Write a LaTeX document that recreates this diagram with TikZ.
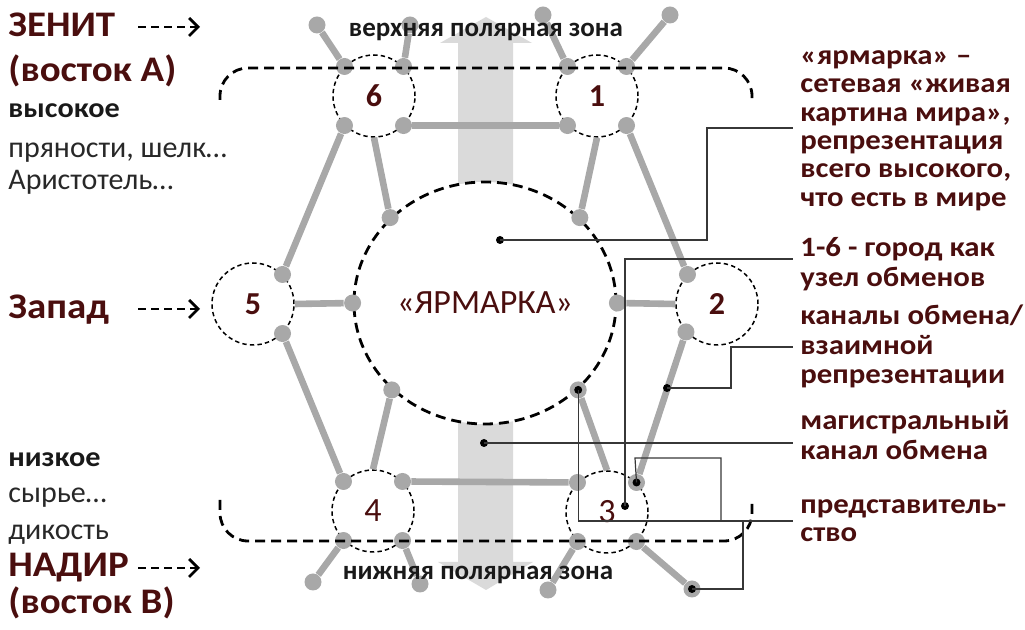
\documentclass[tikz,border=0pt]{standalone}
\usepackage{fontspec}
\setmainfont{Carlito}
\newfontfamily\widefont[FakeStretch=1.08]{Carlito}
\newfontfamily\rightfont[FakeStretch=1.1]{Carlito}
\usetikzlibrary{arrows.meta,shapes.geometric}
\definecolor{maroon}{RGB}{74,14,14}
\definecolor{netgray}{RGB}{168,168,168}
\definecolor{shaftgray}{RGB}{218,218,218}
\definecolor{leadgray}{RGB}{55,55,55}
\definecolor{softblack}{RGB}{25,25,25}
\definecolor{textgray}{RGB}{40,40,40}
\begin{document}
\begin{tikzpicture}[x=0.5pt,y=-0.5pt,
  city/.style={circle,draw=black,line width=0.75pt,dash pattern=on 2.2pt off 1.6pt,
    minimum size=41pt,inner sep=0pt,font=\fontsize{16}{16}\selectfont\bfseries,text=maroon},
  cityr/.style={city,font=\fontsize{17}{17}\selectfont},
  fairnode/.style={ellipse,draw=black,fill=white,line width=1.4pt,dash pattern=on 5pt off 3pt,
    minimum width=131pt,minimum height=121pt,inner sep=0pt,
    font=\fontsize{17}{17}\selectfont,text=maroon},
  gdot/.style={circle,fill=netgray,inner sep=0pt,minimum size=8.5pt},
  bdot/.style={circle,fill=black,inner sep=0pt,minimum size=4pt},
  gline/.style={draw=netgray,line width=3.3pt},
  zone/.style={draw=black,line width=1.4pt,dash pattern=on 5pt off 3pt,rounded corners=14pt},
  leader/.style={draw=leadgray,line width=0.6pt},
  tarrow/.style={draw=black,line width=1.4pt,dash pattern=on 4pt off 2.5pt,
    -{Straight Barb[length=4.5pt,width=9pt,line width=1.4pt]}},
  ltitle/.style={anchor=base west,inner sep=0pt,text=maroon,font=\fontsize{18}{20}\widefont\bfseries},
  lbold/.style={anchor=base west,inner sep=0pt,text=softblack,font=\fontsize{14}{16}\widefont\bfseries},
  lreg/.style={anchor=base west,inner sep=0pt,text=textgray,font=\fontsize{15}{17}\selectfont},
  rt/.style={anchor=base west,inner sep=0pt,text=maroon,font=\fontsize{14}{16}\rightfont\bfseries},
  polar/.style={anchor=base,inner sep=0pt,text=softblack,font=\fontsize{13.5}{16}\selectfont\bfseries}
]
\useasboundingbox (0,0) rectangle (1025,630);

% vertical double arrow (background)
\fill[shaftgray] (486,17) -- (532,43) -- (513,43) -- (513,562) -- (533,562) -- (486,590)
  -- (438,562) -- (458,562) -- (458,43) -- (440,43) -- cycle;

% central fair
\node[fairnode] (fair) at (485,303) {«ЯРМАРКА»};

% cities
\node[city] (c6) at (374,96) {6};
\node[city] (c1) at (597,96) {1};
\node[city] (c5) at (253,304) {5};
\node[city] (c2) at (717,304) {2};
\node[cityr] (c4) at (373,511) {4};
\node[cityr] (c3) at (607,512) {3};

% gray junction dots
\node[gdot] (d6a) at (c6.135) {};
\node[gdot] (d6b) at (c6.45) {};
\node[gdot] (d6c) at (c6.225) {};
\node[gdot] (d6d) at (c6.315) {};
\node[gdot] (d1a) at (c1.135) {};
\node[gdot] (d1b) at (c1.45) {};
\node[gdot] (d1c) at (c1.225) {};
\node[gdot] (d1d) at (c1.315) {};
\node[gdot] (d5a) at (c5.45) {};
\node[gdot] (d5b) at (c5.-45) {};
\node[gdot] (d2a) at (c2.135) {};
\node[gdot] (d2b) at (c2.222) {};
\node[gdot] (d4a) at (c4.135) {};
\node[gdot] (d4b) at (c4.45) {};
\node[gdot] (d4c) at (c4.225) {};
\node[gdot] (d4d) at (c4.315) {};
\node[gdot] (d3a) at (c3.135) {};
\node[gdot] (d3b) at (c3.45) {};
\node[gdot] (d3c) at (c3.225) {};
\node[gdot] (d3d) at (c3.315) {};
\node[gdot] (fw) at (fair.west) {};
\node[gdot] (fe) at (fair.east) {};
\node[gdot] (fnw) at (fair.138) {};
\node[gdot] (fne) at (fair.42) {};
\node[gdot] (fsw) at (fair.223) {};
\node[gdot] (fse) at (fair.317) {};
% outer dots
\node[gdot] (o6a) at (317,25) {};
\node[gdot] (o6b) at (410,25) {};
\node[gdot] (o1a) at (543,15) {};
\node[gdot] (o1b) at (670,15) {};
\node[gdot] (o4a) at (313,582) {};
\node[gdot] (o4b) at (420,584) {};
\node[gdot] (o3a) at (548,590) {};
\node[gdot] (o3b) at (692,589) {};

% gray channels
\draw[gline] (d6d) -- (d1c);
\draw[gline] (d4b) -- (d3a);
\draw[gline] (d6c) -- (d5a);
\draw[gline] (d5b) -- (d4a);
\draw[gline] (d1d) -- (d2a);
\draw[gline] (d2b) -- (d3b);
\draw[gline] (c6.south) -- (fnw);
\draw[gline] (c1.south) -- (fne);
\draw[gline] (c4.north) -- (fsw);
\draw[gline] (c3.north) -- (fse);
\draw[gline] (c5.east) -- (fw);
\draw[gline] (fe) -- (c2.west);
\draw[gline] (d6a) -- (o6a);
\draw[gline] (d6b) -- (o6b);
\draw[gline] (d1a) -- (o1a);
\draw[gline] (d1b) -- (o1b);
\draw[gline] (d4c) -- (o4a);
\draw[gline] (d4d) -- (o4b);
\draw[gline] (d3c) -- (o3a);
\draw[gline] (d3d) -- (o3b);

% polar zone boundaries
\draw[zone] (220,100) -- (220,68) -- (752,68) -- (752,100);
\draw[zone] (220,500) -- (220,541) -- (752,541) -- (752,500);

% leader lines
\node[bdot] (b1) at (500,240) {};
\node[bdot] (b2) at (625,506) {};
\node[bdot] (b3) at (667,388) {};
\node[bdot] (b4) at (484,443) {};
\node[bdot] (b5) at (fse) {};
\node[bdot] (b6) at (d3b) {};
\node[bdot] (b7) at (o3b) {};
\coordinate (e1) at (793,128);
\coordinate (e2) at (793,259);
\coordinate (e3) at (793,347);
\coordinate (e4) at (793,443);
\coordinate (e5) at (793,521);
\draw[leader] (b1.center) -- (707,240) |- (e1);
\draw[leader] (b2.center) |- (e2);
\draw[leader] (b3.center) -- (731,388) |- (e3);
\draw[leader] (b4.center) -- (e4);
\draw[leader] (b5.center) |- (e5);
\draw[leader] (b6.center) -- (635,458) -- (721,458) -- (721,521);
\draw[leader] (b7.center) -- (743,589) -- (743,521);

% left labels
\node[ltitle] (zenit) at (8,37) {ЗЕНИТ};
\node[ltitle] (vosta) at (8,82) {(восток А)};
\node[lbold] (high) at (8,118) {высокое};
\node[lreg] (spice) at (8,158) {пряности, шелк…};
\node[lreg] (arist) at (8,190) {Аристотель…};
\node[ltitle] (west) at (8,319) {Запад};
\node[lbold] (low) at (8,467) {низкое};
\node[lreg] (raw) at (8,503) {сырье…};
\node[lreg] (wild) at (8,540) {дикость};
\node[ltitle] (nadir) at (8,577) {НАДИР};
\node[ltitle] (vostb) at (8,614) {(восток В)};
\coordinate (a1s) at (138,27);
\coordinate (a1e) at (200,27);
\coordinate (a2s) at (138,309);
\coordinate (a2e) at (200,309);
\coordinate (a3s) at (138,568);
\coordinate (a3e) at (200,568);
\draw[tarrow] (a1s) -- (a1e);
\draw[tarrow] (a2s) -- (a2e);
\draw[tarrow] (a3s) -- (a3e);

% polar zone labels
\node[polar] (upz) at (486,37) {верхняя полярная зона};
\node[polar] (lowz) at (478,580) {нижняя полярная зона};

% right labels
\node[rt] (ra1) at (800,65) {«ярмарка» –};
\node[rt] (ra2) at (800,93) {сетевая «живая};
\node[rt] (ra3) at (800,122) {картина мира»,};
\node[rt] (ra4) at (800,150) {репрезентация};
\node[rt] (ra5) at (800,178) {всего высокого,};
\node[rt] (ra6) at (800,207) {что есть в мире};
\node[rt] (rb1) at (800,257) {1-6 - город как};
\node[rt] (rb2) at (800,287) {узел обменов};
\node[rt] (rc1) at (800,325) {каналы обмена/};
\node[rt] (rc2) at (800,355) {взаимной};
\node[rt] (rc3) at (800,384) {репрезентации};
\node[rt] (rd1) at (800,430) {магистральный};
\node[rt] (rd2) at (800,460) {канал обмена};
\node[rt] (re1) at (800,514) {представитель-};
\node[rt] (re2) at (800,542) {ство};
\end{tikzpicture}
\end{document}
